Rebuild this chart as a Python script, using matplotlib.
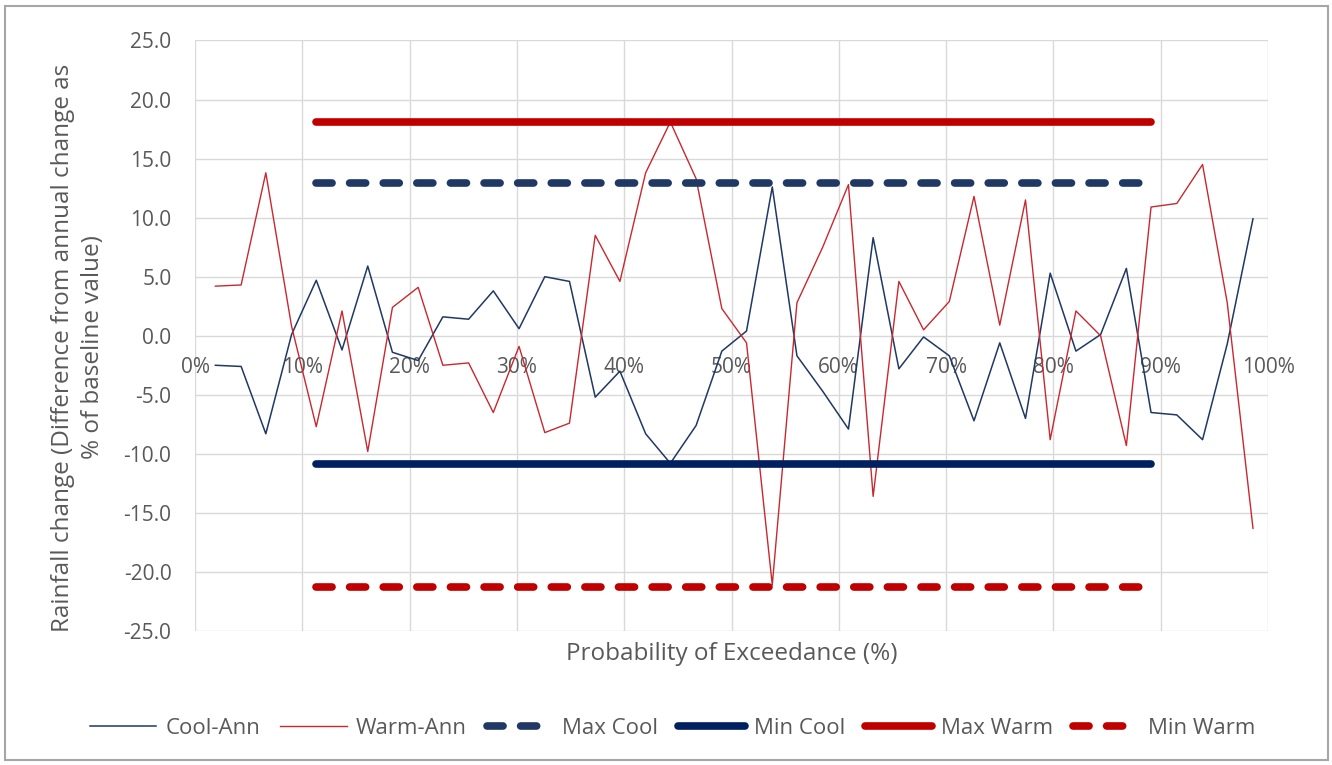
import matplotlib
matplotlib.use("Agg")
import matplotlib.pyplot as plt
from matplotlib.patches import Rectangle
from matplotlib.ticker import FuncFormatter

# Dane
exceedance_pct = [1.9, 4.3, 6.6, 9.0, 11.3, 13.7, 16.1, 18.4, 20.8, 23.1,
                  25.5, 27.8, 30.2, 32.6, 34.9, 37.3, 39.6, 42.0, 44.3, 46.7,
                  49.1, 51.4, 53.8, 56.1, 58.5, 60.9, 63.2, 65.6, 67.9, 70.3,
                  72.6, 75.0, 77.4, 79.7, 82.1, 84.4, 86.8, 89.1, 91.5, 93.9,
                  96.2, 98.6]
cool_ann = [-2.5, -2.6, -8.3, 0.1, 4.7, -1.2, 5.9, -1.4, -2.1, 1.6,
            1.4, 3.8, 0.6, 5.0, 4.6, -5.2, -3.0, -8.3, -10.8, -7.6,
            -1.3, 0.4, 12.6, -1.7, -4.7, -7.9, 8.3, -2.8, -0.1, -1.7,
            -7.2, -0.6, -7.0, 5.3, -1.3, 0.1, 5.7, -6.5, -6.7, -8.8,
            -0.7, 9.9]
warm_ann = [4.2, 4.3, 13.8, 0.8, -7.7, 2.1, -9.8, 2.4, 4.1, -2.5,
            -2.3, -6.5, -0.9, -8.2, -7.4, 8.5, 4.6, 13.8, 18.1, 13.3,
            2.3, -0.6, -21.1, 2.8, 7.5, 12.8, -13.6, 4.6, 0.5, 2.9,
            11.8, 0.9, 11.5, -8.8, 2.1, 0.0, -9.3, 10.9, 11.2, 14.5,
            2.8, -16.3]
max_cool = 12.9
min_cool = -10.9
max_warm = 18.1
min_warm = -21.3
# zakres linii min/max (od ~10% do ~90% prawdopodobieństwa)
band_x = [exceedance_pct[4], exceedance_pct[37]]

legend_labels = ["Cool-Ann", "Warm-Ann", "Max Cool", "Min Cool", "Max Warm", "Min Warm"]

plt.rcParams["font.family"] = ["Open Sans", "DejaVu Sans"]
text_grey = "#595959"
grid_grey = "#D9D9D9"

fig = plt.figure(figsize=(13.32, 7.65), dpi=100)
ax = fig.add_axes([195 / 1332, 1 - 631 / 765, (1268 - 195) / 1332, (631 - 40.5) / 765])

ax.plot(exceedance_pct, cool_ann, color="#1F3864", lw=1.1, label=legend_labels[0])
ax.plot(exceedance_pct, warm_ann, color="#C8282E", lw=1.0, label=legend_labels[1])
ax.plot(band_x, [max_cool, max_cool], color="#203864", lw=5.5, dashes=(2.1, 2.3),
        dash_capstyle="round", label=legend_labels[2])
ax.plot(band_x, [min_cool, min_cool], color="#002060", lw=5.5,
        solid_capstyle="round", label=legend_labels[3])
ax.plot(band_x, [max_warm, max_warm], color="#C00000", lw=5.5,
        solid_capstyle="round", label=legend_labels[4])
ax.plot(band_x, [min_warm, min_warm], color="#C00000", lw=5.5, dashes=(2.1, 2.3),
        dash_capstyle="round", label=legend_labels[5])

ax.set_xlim(0, 100)
ax.set_ylim(-25, 25)
ax.set_xticks(range(0, 101, 10))
ax.set_yticks(range(-25, 26, 5))
ax.xaxis.set_major_formatter(FuncFormatter(lambda v, p: "%d%%" % v))
ax.yaxis.set_major_formatter(FuncFormatter(lambda v, p: "%.1f" % v))
ax.grid(True, color=grid_grey, lw=1.0)
ax.set_axisbelow(True)

for side in ["top", "right", "left"]:
    ax.spines[side].set_visible(False)
ax.spines["bottom"].set_position(("data", 0))
ax.spines["bottom"].set_visible(False)
ax.tick_params(axis="both", length=0, labelsize=15, labelcolor=text_grey)
ax.tick_params(axis="x", pad=15)
ax.tick_params(axis="y", pad=17)

ax.set_xlabel("Probability of Exceedance (%)", fontsize=17.5, color=text_grey)
ax.xaxis.set_label_coords(0.5, -0.018)
ax.set_ylabel("Rainfall change (Difference from annual change as\n% of baseline value)",
              fontsize=17.5, color=text_grey, linespacing=1.3, va="center")
ax.yaxis.set_label_coords(-0.109, 0.48)

fig.legend(loc="center", bbox_to_anchor=(0.505, 1 - 728 / 765), ncol=6, frameon=False,
           fontsize=16, labelcolor=text_grey, handlelength=3.0, handletextpad=0.4,
           columnspacing=0.9)

# ramka wykresu
fig.patches.append(Rectangle((5 / 1332, 5 / 765), 1323 / 1332, 754 / 765,
                             transform=fig.transFigure, fill=False,
                             edgecolor="#A6A6A6", lw=1.5))

fig.savefig("out.png", dpi=100)
